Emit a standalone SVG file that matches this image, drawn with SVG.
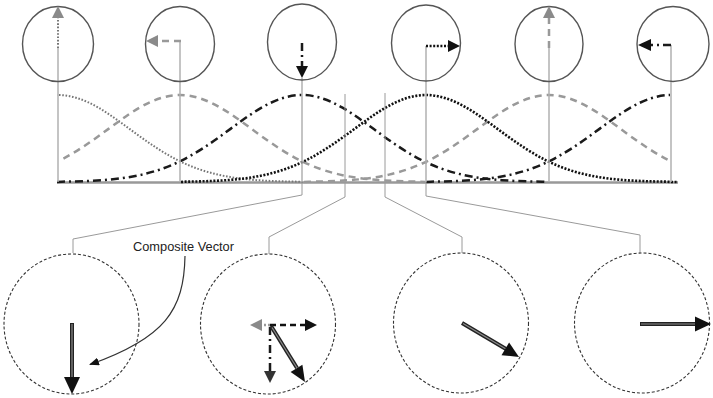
<svg xmlns="http://www.w3.org/2000/svg" xmlns:xlink="http://www.w3.org/1999/xlink" width="713" height="398" viewBox="0 0 713 398">
  <style>
    .ring { fill: none; stroke: #555; stroke-width: 1.4; }
    .dring { fill: none; stroke: #333; stroke-width: 1.1; stroke-dasharray: 3 2; }
    .guide { stroke: #b0b0b0; stroke-width: 1.5; fill: none; }
    .link { stroke: #9a9a9a; stroke-width: 1; fill: none; }
    .g-dot { fill: none; stroke: #777; stroke-width: 2; stroke-dasharray: 1.6 1.7; }
    .g-dash { fill: none; stroke: #999; stroke-width: 2.5; stroke-dasharray: 7 5; }
    .k-dashdot { fill: none; stroke: #1a1a1a; stroke-width: 2.5; stroke-dasharray: 8 4 2 4; }
    .k-dot { fill: none; stroke: #111; stroke-width: 2.6; stroke-dasharray: 2 1.6; }
    .k-dash { fill: none; stroke: #111; stroke-width: 2.5; stroke-dasharray: 6 4; }
    .head-g { fill: #8a8a8a; }
    .head-k { fill: #111; }
    .dbl-out { stroke: #222; stroke-width: 4; fill: none; }
    .dbl-in { stroke: #8c8c8c; stroke-width: 1.2; fill: none; }
    .label { font-family: "Liberation Sans Narrow", "Liberation Sans", Arial, sans-serif; font-size: 13px; fill: #222; }
  </style>
  <defs>
    <!-- bell-shaped response curve, centred on x = 0 -->
    <path id="bell" d="M-245,182 L-240,181.66 C-226.67,181.45 -213.33,181.12 -200,180.2 C-186.67,179.28 -173.33,177.64 -160,174.6 C-146.67,171.56 -133.33,166.99 -120,160.3 C-106.67,153.61 -93.33,144.75 -80,135.1 C-66.67,125.45 -53.33,115.08 -40,107.4 C-26.67,99.72 -13.33,95 0,95 C13.33,95 26.67,99.72 40,107.4 C53.33,115.08 66.67,125.45 80,135.1 C93.33,144.75 106.67,153.61 120,160.3 C133.33,166.99 146.67,171.56 160,174.6 C173.33,177.64 186.67,179.28 200,180.2 C213.33,181.12 226.67,181.45 240,181.66 L245,182"/>
    <clipPath id="span"><rect x="57" y="80" width="613" height="110"/></clipPath>
    <clipPath id="spanB"><rect x="61" y="80" width="609" height="110"/></clipPath>
    <clipPath id="spanD"><rect x="57" y="80" width="622" height="110"/></clipPath>
    <marker id="tip" markerWidth="10" markerHeight="8" refX="9" refY="4" orient="auto" markerUnits="userSpaceOnUse">
      <path d="M0,0 L10,4 L0,8 Z" fill="#111"/>
    </marker>
  </defs>

  <!-- curves along the axis -->
  <g id="curves">
    <line x1="57" y1="182.5" x2="678" y2="182.5" stroke="#999" stroke-width="2.5"/>
    <g clip-path="url(#span)">
      <use xlink:href="#bell" transform="translate(58,0)" class="g-dot"/>
      <use xlink:href="#bell" transform="translate(302,0)" class="k-dashdot"/>
      <use xlink:href="#bell" transform="translate(549,0)" class="g-dash"/>
      <use xlink:href="#bell" transform="translate(671,0)" class="k-dashdot"/>
    </g>
    <g clip-path="url(#spanB)">
      <use xlink:href="#bell" transform="translate(180,0)" class="g-dash"/>
    </g>
    <g clip-path="url(#spanD)">
      <use xlink:href="#bell" transform="translate(426,0)" class="k-dot"/>
      <line x1="671" y1="182" x2="678" y2="182" class="k-dot"/>
    </g>
  </g>

  <!-- connectors -->
  <g id="connectors">
    <line class="guide" x1="58" y1="48" x2="58" y2="182"/>
    <line class="guide" x1="180" y1="41" x2="180" y2="182"/>
    <line class="guide" x1="302" y1="78" x2="302" y2="182"/>
    <line class="guide" x1="426" y1="46" x2="426" y2="182"/>
    <line class="guide" x1="549" y1="48" x2="549" y2="182"/>
    <line class="guide" x1="671" y1="45" x2="671" y2="182"/>
    <polyline class="link" points="302,182 302,195 73,239 73,253"/>
    <polyline class="link" points="345,94 345,197 269,237 269,254"/>
    <polyline class="link" points="385,93 385,197 462,237 462,253"/>
    <polyline class="link" points="426,182 426,196 640,235 640,253"/>
    <path d="M185,256 C184,310 165,338 90,364.5" fill="none" stroke="#333" stroke-width="1.2" marker-end="url(#tip)"/>
  </g>

  <!-- phase circles above the curves -->
  <g id="phase-1">
    <ellipse class="ring" cx="58" cy="44" rx="35.5" ry="37.5"/>
    <line class="g-dot" x1="58" y1="48" x2="58" y2="18"/>
    <polygon class="head-g" points="58,6 52,18 64,18"/>
  </g>
  <g id="phase-2">
    <ellipse class="ring" cx="180" cy="44" rx="34.5" ry="37.5"/>
    <line class="g-dash" x1="181" y1="41" x2="158" y2="41"/>
    <polygon class="head-g" points="146,41 158,35 158,47"/>
  </g>
  <g id="phase-3">
    <ellipse class="ring" cx="302" cy="42" rx="34.5" ry="38"/>
    <line class="k-dashdot" x1="302" y1="43" x2="302" y2="66"/>
    <polygon class="head-k" points="302,78 296,66 308,66"/>
  </g>
  <g id="phase-4">
    <ellipse class="ring" cx="426" cy="43" rx="34.5" ry="38"/>
    <line class="k-dot" x1="426" y1="46" x2="448" y2="46" stroke-width="3"/>
    <polygon class="head-k" points="460,46 448,40 448,52"/>
  </g>
  <g id="phase-5">
    <ellipse class="ring" cx="549" cy="44" rx="34" ry="37.5"/>
    <line class="g-dash" x1="549" y1="48" x2="549" y2="18"/>
    <polygon class="head-g" points="549,6 543,18 555,18" fill="#999"/>
  </g>
  <g id="phase-6">
    <ellipse class="ring" cx="673" cy="44" rx="36" ry="37.5"/>
    <line class="k-dashdot" x1="671" y1="45" x2="651" y2="45"/>
    <polygon class="head-k" points="638,45 651,39 651,51"/>
  </g>

  <!-- composite vector circles below -->
  <g id="sum-1">
    <ellipse class="dring" cx="71.5" cy="324" rx="67.5" ry="70"/>
    <line class="dbl-out" x1="72" y1="323" x2="72" y2="378"/>
    <line class="dbl-in" x1="72" y1="324" x2="72" y2="378"/>
    <polygon class="head-k" points="72,394 64,377 80,377"/>
  </g>
  <g id="sum-2">
    <ellipse class="dring" cx="268" cy="324" rx="67.5" ry="70"/>
    <line x1="270" y1="325" x2="262" y2="325" stroke="#999" stroke-width="2.5" stroke-dasharray="2 2"/>
    <polygon points="250,325 262,319 262,331" fill="#8a8a8a"/>
    <line class="k-dash" x1="270" y1="325" x2="305" y2="325"/>
    <polygon class="head-k" points="317,325 305,319 305,331"/>
    <line class="k-dashdot" x1="270" y1="327" x2="270" y2="372" stroke="#333"/>
    <polygon points="270,383 264,371 276,371" fill="#333"/>
    <line class="dbl-out" x1="271" y1="326" x2="297" y2="368"/>
    <line class="dbl-in" x1="272" y1="327.5" x2="297" y2="368"/>
    <polygon class="head-k" points="305,382 290.6,372.1 302.4,364.7"/>
  </g>
  <g id="sum-3">
    <ellipse class="dring" cx="461" cy="323" rx="67.5" ry="70"/>
    <line class="dbl-out" x1="462" y1="323" x2="506" y2="349"/>
    <line class="dbl-in" x1="463" y1="323.6" x2="506" y2="349"/>
    <polygon class="head-k" points="519,357 501.5,355.2 509.1,342.4"/>
  </g>
  <g id="sum-4">
    <ellipse class="dring" cx="642" cy="323" rx="67.5" ry="70"/>
    <line class="dbl-out" x1="640" y1="324" x2="696" y2="324"/>
    <line class="dbl-in" x1="641" y1="324" x2="696" y2="324"/>
    <polygon class="head-k" points="711,324 695,316.5 695,331.5"/>
  </g>

  <g id="caption">
    <text class="label" x="133" y="251" textLength="101" lengthAdjust="spacingAndGlyphs">Composite Vector</text>
  </g>
</svg>
